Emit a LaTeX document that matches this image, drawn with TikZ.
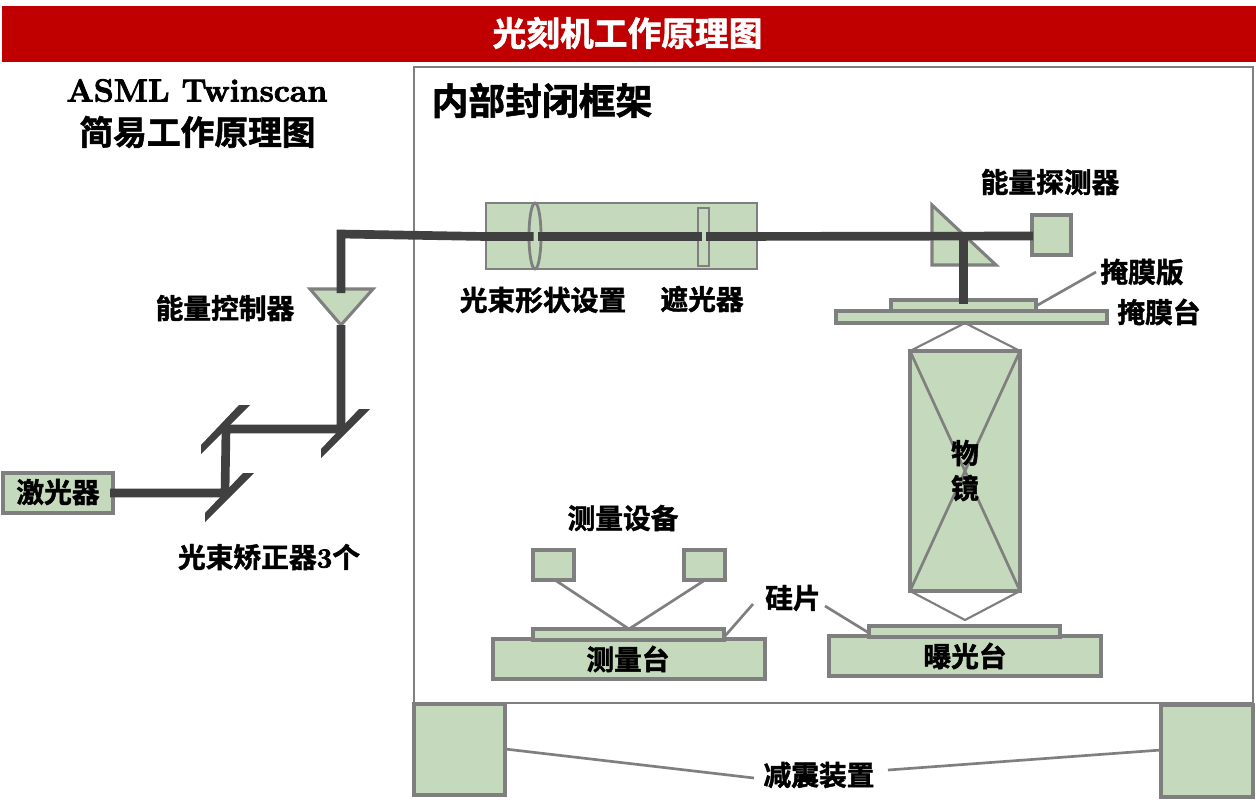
\documentclass[tikz,border=0pt]{standalone}
\usepackage{fontspec}
\usetikzlibrary{shapes.geometric}
\newfontfamily\cjk{Noto Sans CJK SC}[BoldFont={Noto Sans CJK SC Bold},BoldFeatures={FakeBold=1.6}]
\newfontfamily\lmheavy{Latin Modern Roman}[BoldFeatures={FakeBold=2.6}]
\definecolor{pale}{HTML}{C5D9BC}
\definecolor{edge}{HTML}{7F7F7F}
\definecolor{beamc}{HTML}{404040}
\definecolor{head}{HTML}{C00000}
\tikzset{
  part/.style={draw=edge,fill=pale,line width=2.3pt,line join=miter},
  thin part/.style={draw=edge,fill=pale,line width=2.1pt},
  leader/.style={draw=edge,line width=2pt},
  ray/.style={draw=beamc,line width=6.5pt,line join=miter},
  mirror/.style={fill=beamc,draw=none},
  lab/.style={font=\cjk\bfseries\fontsize{20.8}{24}\selectfont,inner sep=0pt,text=black},
}
\newcommand{\rectnode}[6][part]{%
  \pgfmathsetmacro{\cxx}{(#3+#5)/2}\pgfmathsetmacro{\cyy}{(#4+#6)/2}%
  \pgfmathsetmacro{\wdd}{(#5-#3)*0.75}\pgfmathsetmacro{\htt}{(#6-#4)*0.75}%
  \node[#1,rectangle,inner sep=0pt,outer sep=0pt,minimum width=\wdd pt,minimum height=\htt pt] (#2) at (\cxx,\cyy) {};}
\begin{document}
\begin{tikzpicture}[x=0.75pt,y=-0.75pt]
\useasboundingbox (0,0) rectangle (1256,801);
\fill[white] (0,0) rectangle (1256,801);
% header
\node[fill=head,inner sep=0pt,outer sep=0pt,minimum width=940.5pt,minimum height=42pt] (title) at (629,34) {};
\node[inner sep=0pt,text=white,font=\cjk\bfseries\fontsize{25.3}{30}\selectfont] (titletxt) at (627.5,33) {光刻机工作原理图};
% frame
\rectnode[draw=edge,line width=2.2pt,fill=white]{frame}{414}{67}{1253}{703}
\node[lab,font=\cjk\bfseries\fontsize{27.6}{32}\selectfont] (frametxt) at (542,100.5) {内部封闭框架};
\node[inner sep=0pt,font=\lmheavy\bfseries\fontsize{24}{28}\selectfont] (t1) at (197,90.5) {ASML Twinscan};
\node[lab,font=\cjk\bfseries\fontsize{25.3}{30}\selectfont] (t2) at (197.5,132) {简易工作原理图};
% dampers
\rectnode{dampL}{414}{704}{505}{795}
\rectnode{dampR}{1161}{705}{1253}{797}
\node[lab] (damplab) at (819,775) {减震装置};
\coordinate (dl1) at (505,749);\coordinate (dl2) at (754,778);
\coordinate (dr1) at (888,770);\coordinate (dr2) at (1161,750);
\draw[leader] (dl1) -- (dl2);
\draw[leader] (dr1) -- (dr2);
% illumination tube
\rectnode[thin part]{tube}{486}{203}{757}{269}
\node[draw=edge,line width=2.1pt,ellipse,fill=pale,minimum width=9pt,minimum height=49.5pt,inner sep=0pt,outer sep=0pt] (lens) at (535,236) {};
\rectnode[thin part]{shutter}{698}{208}{709}{266}
\node[lab] (tubelab) at (543,300) {光束形状设置};
\node[lab] (shutlab) at (702,299) {遮光器};
% prism and detector
\draw[part] (932,205) coordinate (pr1) -- (932,265) coordinate (pr2) -- (996,265) coordinate (pr3) -- cycle;
\rectnode{det}{1032}{215}{1071}{255}
\node[lab] (detlab) at (1050,182) {能量探测器};
% mask
\rectnode{mstage}{836}{311}{1107}{323}
\rectnode{mask}{891}{300}{1036}{311}
\node[lab] (masklab) at (1142,272) {掩膜版};
\node[lab] (mstagelab) at (1159,312) {掩膜台};
\coordinate (ml1) at (1036,306);\coordinate (ml2) at (1096,272);
\draw[leader] (ml1) -- (ml2);
% objective
\coordinate (apexT) at (965,323);\coordinate (apexB) at (965,620);
\rectnode{obj}{910}{351}{1020}{591}
\draw[draw=edge,line width=1.6pt,line join=round] (obj.north west) -- (apexT) -- (obj.north east);
\draw[draw=edge,line width=1.6pt,line join=round] (obj.south west) -- (apexB) -- (obj.south east);
\draw[leader] (obj.north west) -- (obj.south east);
\draw[leader] (obj.north east) -- (obj.south west);
\node[lab] (o1) at (965,453) {物};
\node[lab] (o2) at (965,488) {镜};
% exposure stage
\rectnode{expo}{829}{636}{1101}{676}
\rectnode{wafB}{869}{626}{1060}{637}
\node[lab] (expolab) at (965,656) {曝光台};
% measuring stage
\rectnode{meas}{493}{639}{765}{679}
\rectnode{wafA}{533}{629}{724}{640}
\node[lab] (measlab) at (628,659) {测量台};
\rectnode{senA}{533}{550}{574}{580}
\rectnode{senB}{684}{550}{725}{580}
\coordinate (senJoin) at (629,629);
\coordinate (sa) at (555,580);\coordinate (sb) at (705,580);
\draw[leader,line join=round] (sa) -- (senJoin) -- (sb);
\node[lab] (senlab) at (623,518) {测量设备};
\node[lab] (silab) at (793,598) {硅片};
\coordinate (si1) at (725,636);\coordinate (si2) at (753,604);
\coordinate (si3) at (825,606);\coordinate (si4) at (869,633);
\draw[leader] (si1) -- (si2);
\draw[leader] (si3) -- (si4);
% laser and beam path
\rectnode{laser}{3}{473}{113}{513}
\node[lab] (laserlab) at (58,492) {激光器};
\draw[part] (310,289) coordinate (tr1) -- (373,289) coordinate (tr2) -- (341,325) coordinate (tr3) -- cycle;
\node[lab] (ctrllab) at (225,308) {能量控制器};
\node[lab] (mirrlab) at (269,557) {光束矫正器{\lmheavy\bfseries 3}个};
\fill[mirror] (205,513) coordinate (m1) -- (205,522) -- (254,473) -- (243,473) -- cycle;
\fill[mirror] (201,445) coordinate (m2) -- (201,454) -- (250,405) -- (239,405) -- cycle;
\fill[mirror] (321,449) coordinate (m3) -- (321,458) -- (370,409) -- (359,409) -- cycle;
\coordinate (b0) at (110,493);\coordinate (b1) at (225,493);\coordinate (b2) at (226,429);
\coordinate (b3) at (341,429);\coordinate (b4) at (341,325);
\coordinate (b5) at (341,293);\coordinate (b6) at (341,234);
\coordinate (b7) at (486,236.5);\coordinate (b8) at (533.5,236.5);
\coordinate (b9) at (537.5,236.5);\coordinate (b10) at (701.5,236.5);
\coordinate (b11) at (706,236.5);\coordinate (b12) at (1033,236);
\coordinate (b13) at (963.5,236);\coordinate (b14) at (963.5,304);
\draw[ray] (b0) -- (b1) -- (b2) -- (b3) -- (b4);
\draw[ray] (b5) -- (b6) -- (b7) -- (b8);
\draw[ray] (b9) -- (b10);
\draw[ray] (b11) -- (b12);
\draw[ray] (b13) -- (b14);
\end{tikzpicture}
\end{document}
